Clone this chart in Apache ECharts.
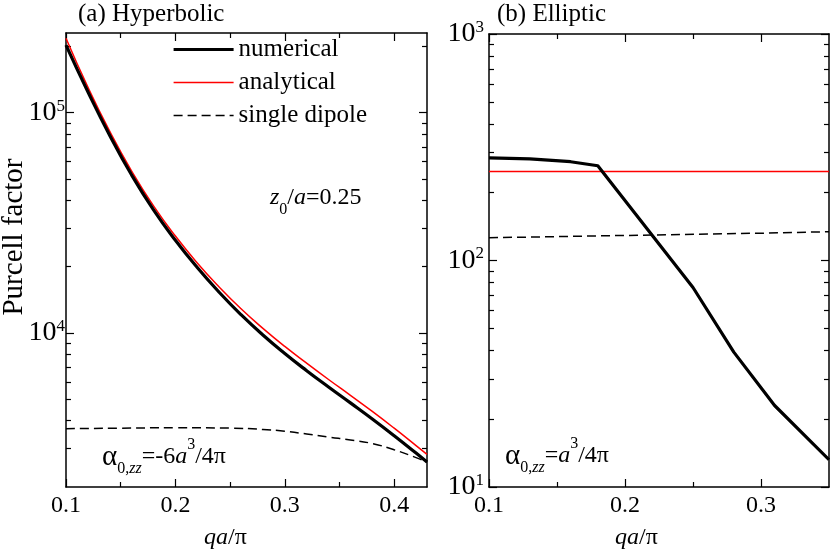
<!DOCTYPE html>
<html>
<head>
<meta charset="utf-8">
<title>Purcell factor</title>
<script src="https://cdn.jsdelivr.net/npm/echarts@6/dist/echarts.min.js"></script>
<style>
  html, body { margin: 0; padding: 0; background: #fff; }
  #chart { width: 830px; height: 553px; }
</style>
</head>
<body>
<div id="chart"></div>
<script>
// (a) hyperbolic
const qHyper = [0.10, 0.12, 0.14, 0.16, 0.18, 0.20, 0.22, 0.24, 0.26, 0.28, 0.30, 0.32, 0.34, 0.36, 0.38, 0.40, 0.42, 0.43]
const numHyper = [202800, 124500, 78890, 52120, 36220, 26360, 19820, 15310, 12110, 9795, 8072, 6745, 5689, 4819, 4074, 3420, 2851, 2600]
const anaHyper = [217800, 130600, 82220, 54330, 37760, 27540, 20800, 16180, 12880, 10500, 8690, 7295, 6152, 5212, 4406, 3698, 3083, 2812]
const qDipHyper = [0.10, 0.15, 0.20, 0.25, 0.28, 0.30, 0.32, 0.34, 0.36, 0.38, 0.40, 0.42, 0.43]
const dipHyper = [3680, 3700, 3715, 3700, 3650, 3580, 3480, 3370, 3270, 3150, 2950, 2720, 2590]

// (b) elliptic
const qNumEll = [0.10, 0.13, 0.16, 0.18, 0.25, 0.28, 0.31, 0.35]
const numEll = [284, 281, 273, 262, 76, 39.4, 22.9, 13.2]
const qAnaEll = [0.10, 0.35]
const anaEll = [247, 247]
const qDipEll = [0.10, 0.20, 0.30, 0.35]
const dipEll = [126, 129, 132, 134]

// ticks
const xMajorHyper = [0.1, 0.2, 0.3, 0.4]
const xMinorHyper = [0.15, 0.25, 0.35]
const yMajorHyper = [1e4, 1e5]
const yMinorHyper = [3e3, 4e3, 5e3, 6e3, 7e3, 8e3, 9e3, 2e4, 3e4, 4e4, 5e4, 6e4, 7e4, 8e4, 9e4, 2e5]
const xMajorEll = [0.1, 0.2, 0.3]
const xMinorEll = [0.15, 0.25]
const yMajorEll = [10, 100, 1000]
const yMinorEll = [20, 30, 40, 50, 60, 70, 80, 90, 200, 300, 400, 500, 600, 700, 800, 900]

const font = 'Liberation Serif'
const black = '#000'
const red = '#ff0000'
const frame = { color: black, width: 1.5 }
const tick = { color: black, width: 1.2 }

function zip(xs, ys) {
  return xs.map((x, i) => [x, ys[i]])
}

function xAxes(gridIndex, min, max, major, minor) {
  const base = {
    type: 'value', gridIndex, min, max,
    splitLine: { show: false },
    axisLabel: { show: false },
    axisLine: { show: false, onZero: false }
  }
  return [
    { ...base, position: 'bottom',
      axisLine: { show: true, onZero: false, lineStyle: frame },
      axisTick: { inside: true, length: 8, customValues: major, lineStyle: tick },
      axisLabel: { show: true, customValues: major, margin: 7, color: black, fontFamily: font, fontSize: 24 } },
    { ...base, position: 'bottom', axisTick: { inside: true, length: 5, customValues: minor, lineStyle: tick } },
    { ...base, position: 'top',
      axisLine: { show: true, onZero: false, lineStyle: frame },
      axisTick: { inside: true, length: 8, customValues: major, lineStyle: tick } },
    { ...base, position: 'top', axisTick: { inside: true, length: 5, customValues: minor, lineStyle: tick } }
  ]
}

function yAxes(gridIndex, min, max, major, minor, labelMargin) {
  const base = {
    type: 'log', logBase: 10, gridIndex, min, max,
    splitLine: { show: false },
    axisLabel: { show: false },
    axisLine: { show: false, onZero: false }
  }
  return [
    { ...base, position: 'left',
      axisLine: { show: true, onZero: false, lineStyle: frame },
      axisTick: { inside: true, length: 8, customValues: major, lineStyle: tick },
      axisLabel: {
        show: true, customValues: major, margin: labelMargin,
        fontFamily: font, fontSize: 28, color: black,
        formatter: v => '{b|10}{s|' + Math.round(Math.log10(v)) + '}',
        rich: {
          b: { fontFamily: font, fontSize: 28, color: black, lineHeight: 30 },
          s: { fontFamily: font, fontSize: 17, color: black, lineHeight: 16, verticalAlign: 'top' }
        }
      } },
    { ...base, position: 'left', axisTick: { inside: true, length: 5, customValues: minor, lineStyle: tick } },
    { ...base, position: 'right',
      axisLine: { show: true, onZero: false, lineStyle: frame },
      axisTick: { inside: true, length: 8, customValues: major, lineStyle: tick } },
    { ...base, position: 'right', axisTick: { inside: true, length: 5, customValues: minor, lineStyle: tick } }
  ]
}

const richMath = {
  i: { fontFamily: font, fontStyle: 'italic', fontSize: 24, lineHeight: 40 },
  g: { fontFamily: font, fontSize: 29, lineHeight: 40 },
  sub: { fontFamily: font, fontSize: 16, lineHeight: 16, verticalAlign: 'bottom' },
  subi: { fontFamily: font, fontStyle: 'italic', fontSize: 16, lineHeight: 16, verticalAlign: 'bottom' },
  sup: { fontFamily: font, fontSize: 16, lineHeight: 16, verticalAlign: 'top' }
}

function label(x, y, text, size, rich) {
  return {
    type: 'text', x, y,
    style: {
      text, fill: black, fontFamily: font, fontSize: size || 24,
      lineHeight: rich ? 40 : undefined, rich: rich || undefined,
      align: 'left', verticalAlign: 'middle'
    }
  }
}

const chart = echarts.init(document.getElementById('chart'))
chart.setOption({
  animation: false,
  backgroundColor: '#fff',
  grid: [
    { left: 66, top: 33, width: 361, height: 454, outerBoundsMode: 'none' },
    { left: 489, top: 34, width: 340, height: 453, outerBoundsMode: 'none' }
  ],
  xAxis: [
    ...xAxes(0, 0.1, 0.43, xMajorHyper, xMinorHyper),
    ...xAxes(1, 0.1, 0.35, xMajorEll, xMinorEll)
  ],
  yAxis: [
    ...yAxes(0, 2000, 230000, yMajorHyper, yMinorHyper, 1),
    ...yAxes(1, 10, 1000, yMajorEll, yMinorEll, 5)
  ],
  legend: {
    data: [
      { name: 'numerical', lineStyle: { width: 3.2 } },
      { name: 'analytical', lineStyle: { width: 1.5 } },
      { name: 'single dipole', lineStyle: { width: 1.5, type: [9, 5] } }
    ],
    orient: 'vertical',
    left: 172,
    top: 37,
    padding: 0,
    itemWidth: 60,
    itemHeight: 12,
    itemGap: 8,
    selectedMode: false,
    itemStyle: { opacity: 0 },
    textStyle: { fontFamily: font, fontSize: 25, color: black }
  },
  series: [
    { name: 'single dipole', type: 'line', xAxisIndex: 0, yAxisIndex: 0, symbol: 'none', smooth: true,
      data: zip(qDipHyper, dipHyper), lineStyle: { color: black, width: 1.5, type: [9, 5] }, itemStyle: { color: black } },
    { name: 'analytical', type: 'line', xAxisIndex: 0, yAxisIndex: 0, symbol: 'none', smooth: true,
      data: zip(qHyper, anaHyper), lineStyle: { color: red, width: 1.5 }, itemStyle: { color: red } },
    { name: 'numerical', type: 'line', xAxisIndex: 0, yAxisIndex: 0, symbol: 'none', smooth: true,
      data: zip(qHyper, numHyper), lineStyle: { color: black, width: 3.2 }, itemStyle: { color: black } },
    { name: 'single dipole', type: 'line', xAxisIndex: 4, yAxisIndex: 4, symbol: 'none',
      data: zip(qDipEll, dipEll), lineStyle: { color: black, width: 1.5, type: [9, 5] }, itemStyle: { color: black } },
    { name: 'analytical', type: 'line', xAxisIndex: 4, yAxisIndex: 4, symbol: 'none',
      data: zip(qAnaEll, anaEll), lineStyle: { color: red, width: 1.5 }, itemStyle: { color: red } },
    { name: 'numerical', type: 'line', xAxisIndex: 4, yAxisIndex: 4, symbol: 'none',
      data: zip(qNumEll, numEll), lineStyle: { color: black, width: 3.2 }, itemStyle: { color: black } }
  ],
  graphic: [
    label(78, 14, '(a) Hyperbolic', 25),
    label(497, 14, '(b) Elliptic', 25),
    {
      type: 'text', x: 14, y: 237, rotation: Math.PI / 2,
      style: { text: 'Purcell factor', fill: black, fontFamily: font, fontSize: 29, align: 'center', verticalAlign: 'middle' }
    },
    label(270, 198, '{i|z}{sub|0}/{i|a}=0.25', 24, richMath),
    label(102, 457, '{g|α}{sub|0,}{subi|zz}=-6{i|a}{sup|3}/4π', 24, richMath),
    label(505, 456, '{g|α}{sub|0,}{subi|zz}={i|a}{sup|3}/4π', 24, richMath),
    label(204, 538, '{i|qa}/π', 24, richMath),
    label(615, 538, '{i|qa}/π', 24, richMath)
  ]
})
</script>
</body>
</html>
